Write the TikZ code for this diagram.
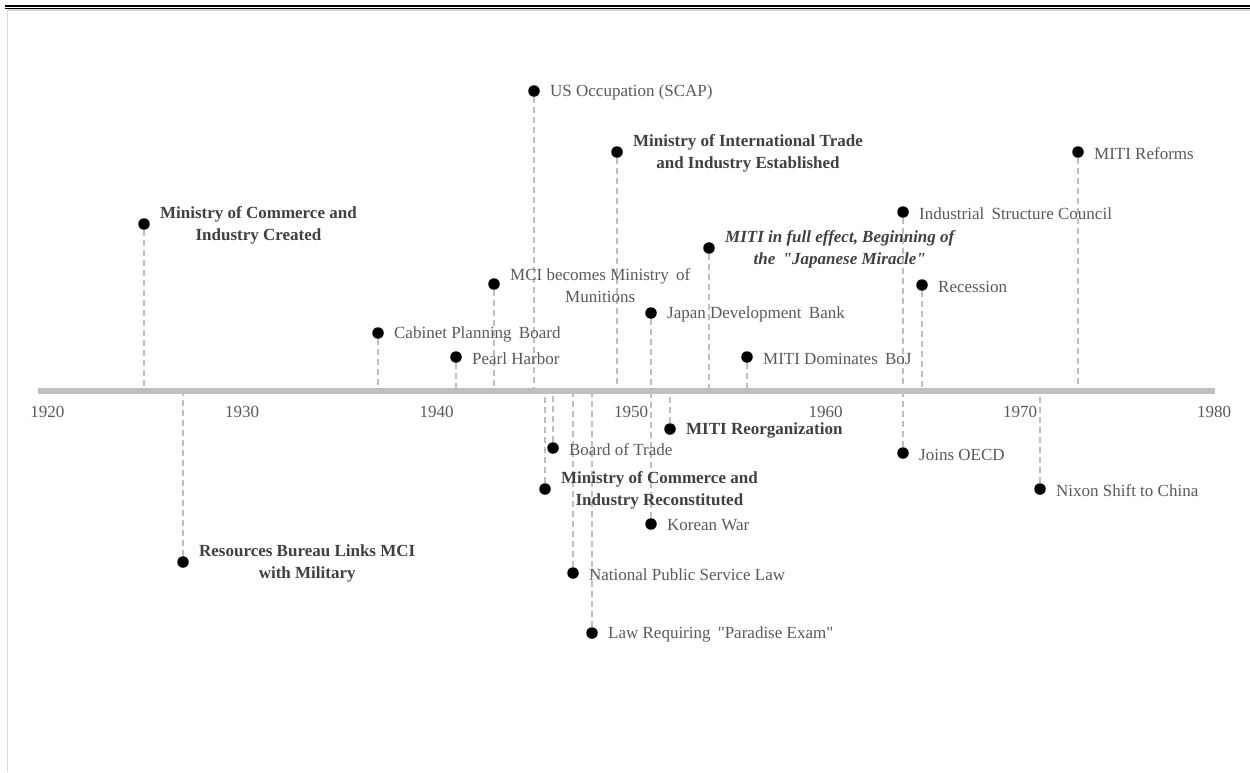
\documentclass[tikz,border=0pt]{standalone}
\usepackage{fontspec}
\setmainfont{Liberation Serif}[Ligatures=TeXOff]
\definecolor{tgray}{HTML}{595959}
\definecolor{bgray}{HTML}{404040}
\definecolor{lgray}{HTML}{BFBFBF}
\definecolor{fgray}{HTML}{D9D9D9}
\begin{document}
\begin{tikzpicture}[x=1pt,y=-1pt,
  evdot/.style={circle,fill=black,inner sep=0pt,minimum size=11.5pt},
  lab/.style={anchor=west,xshift=10pt,yshift=-1.5pt,inner sep=0pt,align=center,text=tgray,font=\fontsize{17}{22}\selectfont},
  blab/.style={lab,text=bgray,font=\fontsize{17}{22}\selectfont\bfseries},
  bilab/.style={lab,text=bgray,font=\fontsize{17}{22}\selectfont\bfseries\itshape},
  stem/.style={draw=lgray,line width=1.2pt,dash pattern=on 6pt off 4pt},
  ticklab/.style={text=tgray,inner sep=0pt,font=\fontsize{17}{20}\selectfont}]
\useasboundingbox (0,0) rectangle (1250,772);
% header rules and frame
\draw[line width=2pt,black] (5,5.5) -- (1250,5.5);
\draw[line width=1pt,black] (5,8.4) -- (1250,8.4);
\draw[line width=1.5pt,fgray] (7.5,10) -- (1250,10);
\draw[line width=1.5pt,fgray] (7.5,10) -- (7.5,772);
% axis
\coordinate (axL) at (38,391);
\coordinate (axR) at (1215,391);
% events above axis
\node[evdot] (e1) at (144,224) {};
\node[evdot] (e3) at (378,333) {};
\node[evdot] (e4) at (456,357) {};
\node[evdot] (e5) at (494,284) {};
\node[evdot] (e6) at (534,91) {};
\node[evdot] (e11) at (617,152) {};
\node[evdot] (e12) at (651,313) {};
\node[evdot] (e15) at (709,248) {};
\node[evdot] (e16) at (747,357) {};
\node[evdot] (e17) at (903,212) {};
\node[evdot] (e19) at (922,285) {};
\node[evdot] (e21) at (1078,152) {};
% events below axis
\node[evdot] (e2) at (183,562) {};
\node[evdot] (e7) at (545,489) {};
\node[evdot] (e8) at (553,448) {};
\node[evdot] (e9) at (573,573) {};
\node[evdot] (e10) at (592,633) {};
\node[evdot] (e13) at (651,524) {};
\node[evdot] (e14) at (670,429) {};
\node[evdot] (e18) at (903,453) {};
\node[evdot] (e20) at (1040,489) {};
% axis foot coordinates
\foreach \e/\x in {e1/144,e3/378,e4/456,e5/494,e6/534,e11/617,e12/651,e15/709,e16/747,e17/903,e19/922,e21/1078}
  \coordinate (\e a) at (\x,388);
\foreach \e/\x in {e2/183,e7/545,e8/553,e9/573,e10/592,e13/651,e14/670,e18/903,e20/1040}
  \coordinate (\e a) at (\x,394);
% stems
\foreach \e in {e1,e3,e4,e5,e6,e11,e12,e15,e16,e17,e19,e21,e2,e7,e8,e9,e10,e13,e14,e18,e20}
  \draw[stem] (\e) -- (\e a);
% axis line
\draw[line width=6pt,lgray] (axL) -- (axR);
% tick labels
\node[ticklab] (t1920) at (47.5,412) {1920};
\node[ticklab] (t1930) at (242,412) {1930};
\node[ticklab] (t1940) at (436.5,412) {1940};
\node[ticklab] (t1950) at (631,412) {1950};
\node[ticklab] (t1960) at (825.5,412) {1960};
\node[ticklab] (t1970) at (1020,412) {1970};
\node[ticklab] (t1980) at (1214,412) {1980};
% labels
\node[blab] (l1) at (e1.east) {Ministry of Commerce and\\Industry Created};
\node[blab] (l2) at (e2.east) {Resources Bureau Links MCI\\with Military};
\node[lab] (l3) at (e3.east) {Cabinet Planning\hspace{3pt} Board};
\node[lab] (l4) at (e4.east) {Pearl Harbor};
\node[lab] (l5) at (e5.east) {MCI becomes Ministry\hspace{3pt} of\\Munitions};
\node[lab] (l6) at (e6.east) {US Occupation (SCAP)};
\node[blab] (l7) at (e7.east) {Ministry of Commerce and\\Industry Reconstituted};
\node[lab] (l8) at (e8.east) {Board of Trade};
\node[lab] (l9) at (e9.east) {National Public Service Law};
\node[lab] (l10) at (e10.east) {Law Requiring\hspace{3pt} "Paradise Exam"};
\node[blab] (l11) at (e11.east) {Ministry of International Trade\\and Industry Established};
\node[lab] (l12) at (e12.east) {Japan Development\hspace{3pt} Bank};
\node[lab] (l13) at (e13.east) {Korean War};
\node[blab] (l14) at (e14.east) {MITI Reorganization};
\node[bilab] (l15) at (e15.east) {MITI in full effect, Beginning of\\the\hspace{3pt} "Japanese Miracle"};
\node[lab] (l16) at (e16.east) {MITI Dominates\hspace{3pt} BoJ};
\node[lab] (l17) at (e17.east) {Industrial\hspace{3pt} Structure Council};
\node[lab] (l18) at (e18.east) {Joins OECD};
\node[lab] (l19) at (e19.east) {Recession};
\node[lab] (l20) at (e20.east) {Nixon Shift to China};
\node[lab] (l21) at (e21.east) {MITI Reforms};
\end{tikzpicture}
\end{document}
